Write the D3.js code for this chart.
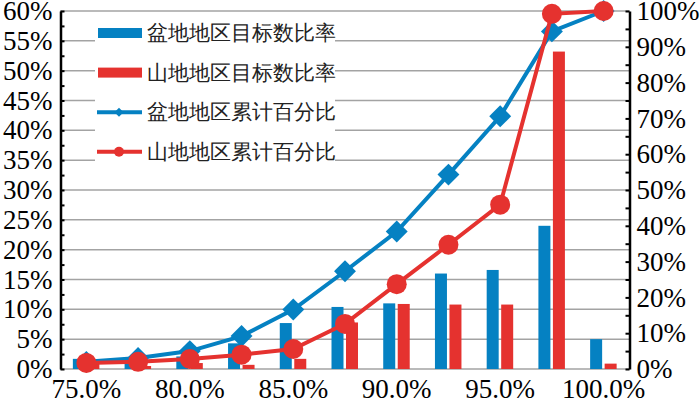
<!DOCTYPE html>
<html>
<head>
<meta charset="utf-8">
<script src="https://cdn.jsdelivr.net/npm/d3@7"></script>
<style>
  body { margin: 0; background: #fff; }
  text { font-family: "Liberation Serif", "Times New Roman", serif; }
</style>
</head>
<body>
<div id="chart"></div>
<script>
// categories along the x axis (only every other one gets a label)
var categories = ["75.0%", "77.5%", "80.0%", "82.5%", "85.0%", "87.5%", "90.0%", "92.5%", "95.0%", "97.5%", "100.0%"];
var shownLabels = ["75.0%", "80.0%", "85.0%", "90.0%", "95.0%", "100.0%"];

// bars, left axis (%)
var basinRatio = [1.7, 1.6, 2.1, 4.3, 7.7, 10.4, 11.0, 16.0, 16.6, 24.0, 5.0];
var mountainRatio = [1.4, 0.5, 1.0, 0.7, 1.7, 7.8, 10.9, 10.8, 10.8, 53.2, 0.9];

// cumulative lines, right axis (%)
var basinCum = [2.0, 3.1, 5.0, 9.2, 16.6, 27.3, 38.4, 54.3, 70.6, 94.3, 100];
var mountainCum = [1.7, 2.0, 2.8, 4.0, 5.6, 12.6, 23.7, 34.7, 45.9, 99.2, 100];

var leftTicks = d3.range(0, 60.1, 2.5);
var rightTicks = d3.range(0, 100.1, 5);

var legendNames = ["盆地地区目标数比率", "山地地区目标数比率", "盆地地区累计百分比", "山地地区累计百分比"];

var blue = "#0581c2";
var red = "#e5322f";

// set the dimensions and margins of the graph
var setWidth = 700;
var setHeight = 399;
var margin = {top: 11, right: 70.5, bottom: 30, left: 60.5};
var width = setWidth - margin.left - margin.right;
var height = setHeight - margin.top - margin.bottom;

var svg = d3.select("#chart")
    .append("svg")
    .attr("width", setWidth)
    .attr("height", setHeight)
    .append("g")
    .attr("transform", "translate(" + margin.left + "," + margin.top + ")");

var x = d3.scaleBand().domain(categories).range([0, width]);
var yL = d3.scaleLinear().domain([0, 60]).range([height, 0]);
var yR = d3.scaleLinear().domain([0, 100]).range([height, 0]);

// gridlines
svg.append("g")
    .selectAll("line")
    .data(d3.range(0, 60.1, 5))
    .join("line")
        .attr("x1", 0)
        .attr("x2", width)
        .attr("y1", function (d) { return yL(d); })
        .attr("y2", function (d) { return yL(d); })
        .attr("stroke", "#a3a3a3")
        .attr("stroke-width", 1.5);

// legend background covers the gridlines
svg.append("rect")
    .attr("x", 95 - margin.left)
    .attr("y", 17 - margin.top)
    .attr("width", 240)
    .attr("height", 156)
    .attr("fill", "#fff");

// bars
var bw = 12;
svg.append("g")
    .selectAll("rect")
    .data(basinRatio)
    .join("rect")
        .attr("x", function (d, i) { return x(categories[i]) + x.bandwidth() / 2 - 13.5; })
        .attr("y", function (d) { return yL(d); })
        .attr("width", bw)
        .attr("height", function (d) { return height - yL(d); })
        .attr("fill", blue);

svg.append("g")
    .selectAll("rect")
    .data(mountainRatio)
    .join("rect")
        .attr("x", function (d, i) { return x(categories[i]) + x.bandwidth() / 2 + 1; })
        .attr("y", function (d) { return yL(d); })
        .attr("width", bw)
        .attr("height", function (d) { return height - yL(d); })
        .attr("fill", red);

// lines
var cx = function (d, i) { return x(categories[i]) + x.bandwidth() / 2; };
var line = d3.line().x(cx).y(function (d) { return yR(d); });

svg.append("path")
    .datum(basinCum)
    .attr("d", line)
    .attr("fill", "none")
    .attr("stroke", blue)
    .attr("stroke-width", 4);

svg.append("g")
    .selectAll("path")
    .data(basinCum)
    .join("path")
        .attr("d", d3.symbol().type(d3.symbolSquare).size(240))
        .attr("transform", function (d, i) { return "translate(" + cx(d, i) + "," + yR(d) + ") rotate(45)"; })
        .attr("fill", blue);

svg.append("path")
    .datum(mountainCum)
    .attr("d", line)
    .attr("fill", "none")
    .attr("stroke", red)
    .attr("stroke-width", 4);

svg.append("g")
    .selectAll("circle")
    .data(mountainCum)
    .join("circle")
        .attr("cx", cx)
        .attr("cy", function (d) { return yR(d); })
        .attr("r", 10)
        .attr("fill", red);

// left axis
var leftAxis = svg.append("g")
    .call(d3.axisLeft(yL)
        .tickValues(leftTicks)
        .tickSize(-4)
        .tickSizeOuter(0)
        .tickPadding(8)
        .tickFormat(function (d) { return d % 5 === 0 ? d + "%" : ""; }));

// right axis
var rightAxis = svg.append("g")
    .attr("transform", "translate(" + width + ",0)")
    .call(d3.axisRight(yR)
        .tickValues(rightTicks)
        .tickSize(-4)
        .tickSizeOuter(0)
        .tickPadding(7)
        .tickFormat(function (d) { return d % 10 === 0 ? d + "%" : ""; }));

[leftAxis, rightAxis].forEach(function (ax) {
    ax.select(".domain").attr("stroke", "#000").attr("stroke-width", 2.5);
    ax.selectAll(".tick line").attr("stroke", "#000").attr("stroke-width", 2);
    ax.selectAll("text")
        .attr("font-family", "Liberation Serif")
        .attr("font-size", 27)
        .attr("fill", "#000")
        .attr("dy", "0.32em");
});

// x axis labels
var xAxis = svg.append("g")
    .attr("transform", "translate(0," + height + ")")
    .call(d3.axisBottom(x).tickValues(shownLabels).tickSize(0));
xAxis.select(".domain").remove();
xAxis.selectAll("text")
    .attr("font-family", "Liberation Serif")
    .attr("font-size", 27)
    .attr("fill", "#000")
    .attr("y", 29)
    .attr("dy", 0);

// legend
var legend = svg.append("g")
    .attr("transform", "translate(" + (98 - margin.left) + "," + (33 - margin.top) + ")");

legendNames.forEach(function (name, i) {
    var g = legend.append("g").attr("transform", "translate(0," + (i * 39.6) + ")");
    var col = (i % 2 === 0) ? blue : red;
    if (i < 2) {
        g.append("rect").attr("x", 0).attr("y", -5).attr("width", 44).attr("height", 10).attr("fill", col);
    } else {
        g.append("line").attr("x1", -1).attr("x2", 44).attr("y1", 0).attr("y2", 0)
            .attr("stroke", col).attr("stroke-width", 4);
        if (i === 2) {
            g.append("path").attr("d", d3.symbol().type(d3.symbolSquare).size(40))
                .attr("transform", "translate(21,0) rotate(45)").attr("fill", col);
        } else {
            g.append("circle").attr("cx", 21).attr("cy", 0).attr("r", 5).attr("fill", col);
        }
    }
    g.append("text")
        .attr("x", 49)
        .attr("y", 0)
        .attr("dy", "0.35em")
        .attr("font-family", "Noto Sans CJK SC")
        .attr("font-size", 20.5)
        .attr("fill", "#222")
        .text(name);
});
</script>
</body>
</html>
